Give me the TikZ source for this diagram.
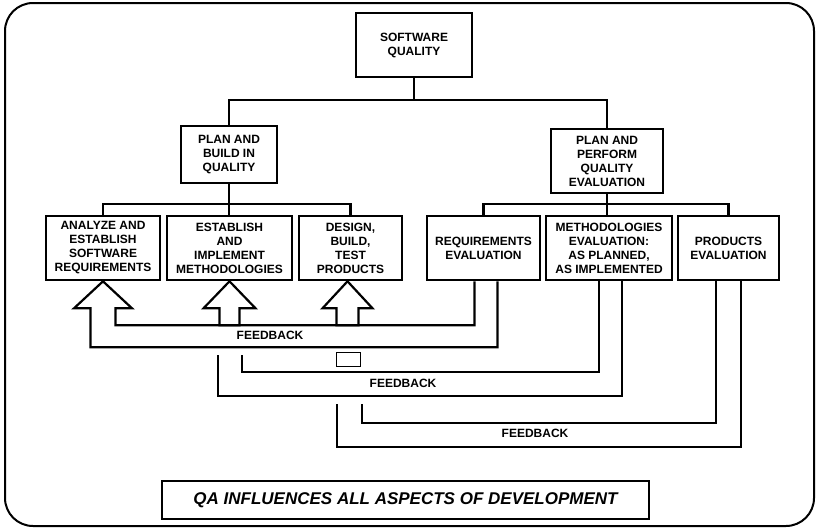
\documentclass[tikz,border=0pt]{standalone}
\usepackage{fontspec}
\setmainfont{Liberation Sans}
\usetikzlibrary{calc}
\begin{document}
\begin{tikzpicture}[x=1pt,y=-1pt,
  box/.style={draw, line width=2.6pt, align=center, inner sep=0pt,
    font=\bfseries\fontsize{12}{14}\selectfont},
  link/.style={line width=2.2pt},
  fb/.style={line width=2.2pt, line join=miter},
  lbl/.style={font=\bfseries\fontsize{12}{14}\selectfont, inner sep=0pt}]
\useasboundingbox (0,0) rectangle (818,530);
% outer frame
\draw[line width=2pt, rounded corners=28pt] (5,3) rectangle (814,526);

% hierarchy boxes
\node[box, minimum width=116pt, minimum height=64pt] (top) at (414,45) {SOFTWARE\\QUALITY};
\node[box, minimum width=96pt, minimum height=57pt] (pbq) at (229,154.5) {PLAN AND\\BUILD IN\\QUALITY};
\node[box, minimum width=112pt, minimum height=64pt] (ppq) at (607,161) {PLAN AND\\PERFORM\\QUALITY\\EVALUATION};

\node[box, minimum width=114pt, minimum height=64pt] (req) at (103,248) {ANALYZE AND\\ESTABLISH\\SOFTWARE\\REQUIREMENTS};
\node[box, minimum width=125pt, minimum height=64pt] (meth) at (229.5,248) {ESTABLISH\\AND\\IMPLEMENT\\METHODOLOGIES};
\node[box, minimum width=103pt, minimum height=64pt] (prod) at (350.5,248) {DESIGN,\\BUILD,\\TEST\\PRODUCTS};

\node[box, minimum width=113pt, minimum height=64pt] (reqev) at (483.5,248) {REQUIREMENTS\\EVALUATION};
\node[box, minimum width=126pt, minimum height=64pt] (methev) at (609,248) {METHODOLOGIES\\EVALUATION:\\AS PLANNED,\\AS IMPLEMENTED};
\node[box, minimum width=101pt, minimum height=64pt] (prodev) at (728.5,248) {PRODUCTS\\EVALUATION};

% tree connectors
\draw[link] (top.south) -- ++(0,22) coordinate (tj);
\draw[link] (tj) -| (pbq.north);
\draw[link] (tj) -| (ppq.north);
\draw[link] (pbq.south) -- ++(0,20) coordinate (lj);
\draw[link] (lj) -| (req.north);
\draw[link] (lj) -| (prod.north);
\draw[link] (lj) -- (pbq.south |- meth.north);
\draw[link] (ppq.south) -- ++(0,10) coordinate (rj);
\draw[link] (rj) -| (reqev.north);
\draw[link] (rj) -| (prodev.north);
\draw[link] (rj) -- (ppq.south |- methev.north);

% block arrows into the development boxes
\draw[fb, fill=white] (meth.south) -- ++(26,27) -- ++(-16,0) -- ++(0,17) -- ++(-20,0)
  -- ++(0,-17) -- ++(-16,0) -- cycle;
\draw[fb, fill=white] ($(prod.south)+(-3,0)$) coordinate (pt) -- ++(25,27) -- ++(-14,0) -- ++(0,17)
  -- ++(-22,0) -- ++(0,-17) -- ++(-14,0) -- cycle;

% first feedback loop: requirements evaluation back to the requirements arrow
\draw[fb] ($(reqev.south)+(-9,0)$) -- ++(0,44) -| ($(req.south)+(12.5,27)$)
  -- ++(16.5,0) -- (req.south) -- ++(-29,27) -- ++(16.5,0) -- ++(0,39)
  -| ($(reqev.south)+(14,0)$);
\node[lbl] (fb1) at (270,335) {FEEDBACK};

% second feedback loop: methodologies evaluation
\coordinate (f2i) at (242,355);
\coordinate (f2o) at (218,355);
\draw[fb] ($(methev.south)+(-10,0)$) -- ++(0,91) -| (f2i);
\draw[fb] ($(methev.south)+(13,0)$) -- ++(0,115) -| (f2o);
\node[draw, line width=1.8pt, minimum width=24pt, minimum height=14pt, inner sep=0pt] (gap) at (348.5,359.5) {};
\node[lbl] (fb2) at (403,383) {FEEDBACK};

% third feedback loop: products evaluation
\coordinate (f3i) at (362,404);
\coordinate (f3o) at (337,404);
\draw[fb] ($(prodev.south)+(-12.5,0)$) -- ++(0,142) -| (f3i);
\draw[fb] ($(prodev.south)+(12.5,0)$) -- ++(0,166) -| (f3o);
\node[lbl] (fb3) at (535,433) {FEEDBACK};

% caption box
\node[draw, line width=2.6pt, minimum width=487pt, minimum height=38pt, inner sep=0pt,
  font=\bfseries\itshape\fontsize{17}{20}\selectfont] (qa) at (405.5,500)
  {QA INFLUENCES ALL ASPECTS OF DEVELOPMENT};
\end{tikzpicture}
\end{document}
